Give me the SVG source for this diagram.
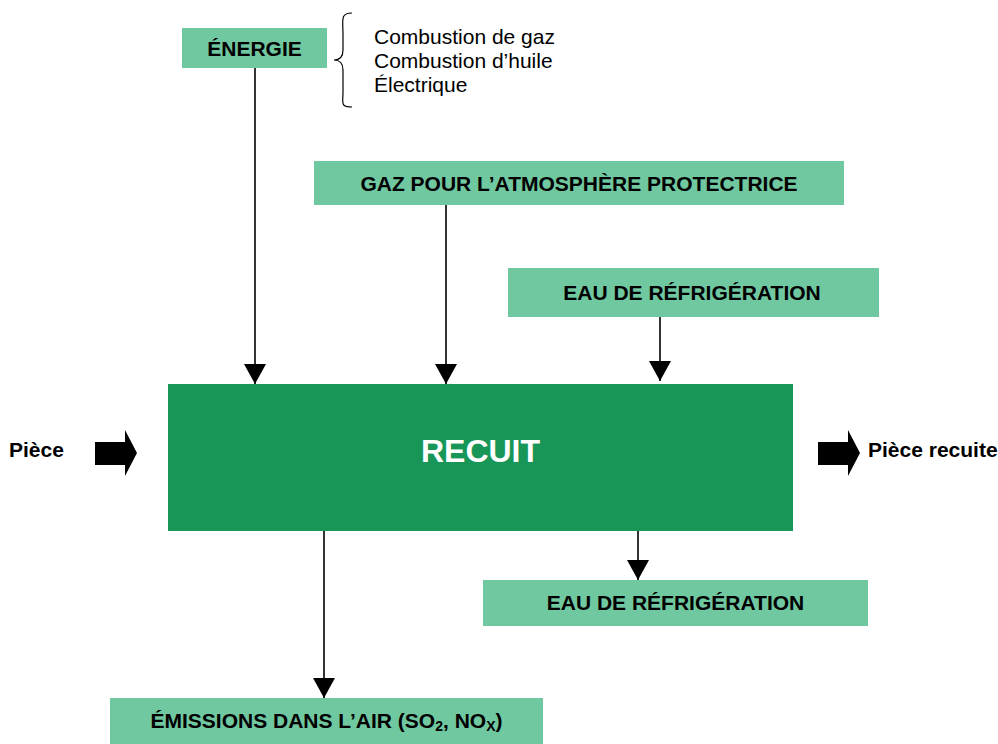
<svg xmlns="http://www.w3.org/2000/svg" width="998" height="744" viewBox="0 0 998 744">
  <defs>
    <marker id="ah" viewBox="0 0 20 22" refX="20" refY="11" markerWidth="20" markerHeight="22" markerUnits="userSpaceOnUse" orient="auto">
      <path d="M0,0 L20,11 L0,22 Z" fill="#000"/>
    </marker>
    <style>
      .box { fill: #70C8A1; }
      .lbl { font-family: "Liberation Sans", Arial, sans-serif; font-weight: bold; font-size: 21px; fill: #000; text-anchor: middle; }
      .note { font-family: "Liberation Sans", Arial, sans-serif; font-size: 21px; fill: #000; }
      .side { font-family: "Liberation Sans", Arial, sans-serif; font-weight: bold; font-size: 21px; fill: #000; }
      .conn { stroke: #000; stroke-width: 1.6; fill: none; marker-end: url(#ah); }
    </style>
  </defs>
  <rect width="998" height="744" fill="#fff"/>

  <g id="energie">
    <rect class="box" x="182" y="28" width="145" height="40"/>
    <text class="lbl" x="254.5" y="56">ÉNERGIE</text>
  </g>

  <g id="energie-sources">
    <path d="M352,13 C340,13 343,20 343,35 L343,50 C343,57 340,60 334,60 C340,60 343,63 343,70 L343,92 C343,103 340,107 352,107" fill="none" stroke="#000" stroke-width="1.2"/>
    <text class="note" x="374" y="44">Combustion de gaz</text>
    <text class="note" x="374" y="68">Combustion d’huile</text>
    <text class="note" x="374" y="92">Électrique</text>
  </g>

  <g id="gaz">
    <rect class="box" x="314" y="161" width="530" height="44"/>
    <text class="lbl" x="579" y="191">GAZ POUR L’ATMOSPHÈRE PROTECTRICE</text>
  </g>

  <g id="eau-in">
    <rect class="box" x="508" y="268" width="371" height="49"/>
    <text class="lbl" x="692" y="300">EAU DE RÉFRIGÉRATION</text>
  </g>

  <g id="recuit">
    <rect x="168" y="384" width="625" height="147" fill="#179657"/>
    <text x="480.5" y="462" font-family="Liberation Sans, Arial, sans-serif" font-weight="bold" font-size="32" fill="#fff" text-anchor="middle">RECUIT</text>
  </g>

  <g id="piece">
    <text class="side" x="9" y="457">Pièce</text>
    <path d="M95,442 L125,442 L125,430 L137,453 L125,476 L125,465 L95,465 Z" fill="#000"/>
  </g>

  <g id="piece-recuite">
    <path d="M818,442 L848,442 L848,430 L860,453 L848,476 L848,465 L818,465 Z" fill="#000"/>
    <text class="side" x="868" y="457">Pièce recuite</text>
  </g>

  <g id="eau-out">
    <rect class="box" x="483" y="580" width="385" height="46"/>
    <text class="lbl" x="675.5" y="610">EAU DE RÉFRIGÉRATION</text>
  </g>

  <g id="emissions">
    <rect class="box" x="110" y="698" width="433" height="46"/>
    <text class="lbl" x="326.5" y="728">ÉMISSIONS DANS L’AIR (SO<tspan font-size="14" dy="3">2</tspan><tspan dy="-3">, NO</tspan><tspan font-size="14" dy="3">X</tspan><tspan dy="-3">)</tspan></text>
  </g>

  <g id="connectors">
    <line class="conn" x1="255" y1="68" x2="255" y2="384"/>
    <line class="conn" x1="446" y1="205" x2="446" y2="384"/>
    <line class="conn" x1="660" y1="317" x2="660" y2="381"/>
    <line class="conn" x1="638" y1="531" x2="638" y2="580"/>
    <line class="conn" x1="324" y1="531" x2="324" y2="698"/>
  </g>
</svg>
